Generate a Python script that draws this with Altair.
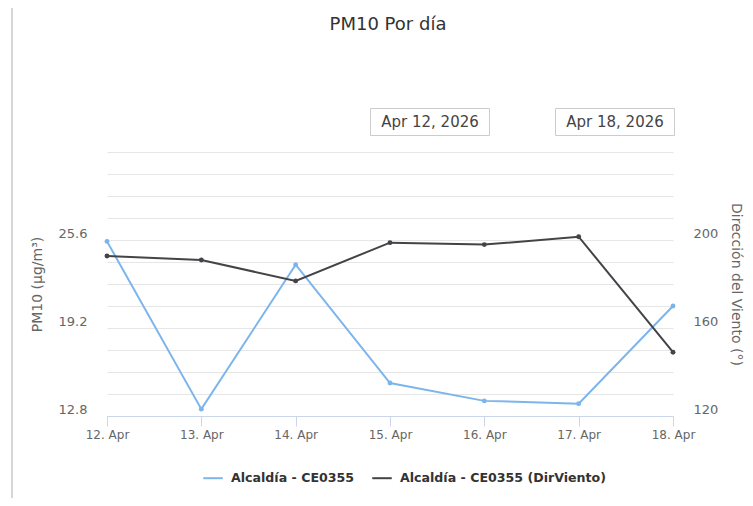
import altair as alt
import pandas as pd

# ---- data ----
dias = ["12. Apr", "13. Apr", "14. Apr", "15. Apr", "16. Apr", "17. Apr", "18. Apr"]
pm10 = [25.5, 13.3, 23.8, 15.2, 13.9, 13.7, 20.8]
dir_viento = [192.7, 190.9, 181.4, 198.8, 197.9, 201.5, 149.0]
serie_pm10 = "Alcaldía - CE0355"
serie_dir = "Alcaldía - CE0355 (DirViento)"
titulo = "PM10 Por día"
fechas_rango = ["Apr 12, 2026", "Apr 18, 2026"]
left_ticks = [12.8, 14.4, 16.0, 17.6, 19.2, 20.8, 22.4, 24.0, 25.6, 27.2, 28.8, 30.4, 32.0]
left_labels = [12.8, 19.2, 25.6]
right_ticks = [120, 160, 200]

df_pm = pd.DataFrame({"dia": dias, "pm10": pm10, "serie": [serie_pm10] * len(dias)})
df_dir = pd.DataFrame({"dia": dias, "dir": dir_viento, "serie": [serie_dir] * len(dias)})

FONT = "DejaVu Sans"
BLUE = "#7cb5ec"
BLACK = "#434348"

color_scale = alt.Scale(domain=[serie_pm10, serie_dir], range=[BLUE, BLACK])
legend = alt.Legend(
    orient="none", legendX=95, legendY=315, direction="horizontal", title=None,
    symbolType="stroke", symbolStrokeWidth=2, symbolSize=380,
    labelFontSize=12.6, labelFontWeight="bold", labelColor="#333333", labelFont=FONT,
    columnPadding=13, labelOffset=7, padding=0, labelLimit=0,
)

x_enc = alt.X(
    "dia:O", sort=dias, scale=alt.Scale(type="point", padding=0),
    axis=alt.Axis(title=None, labelAngle=0, domainColor="#ccd6eb", tickColor="#ccd6eb",
                  tickSize=10, labelColor="#666666", labelFontSize=12, labelPadding=3,
                  grid=False, labelFont=FONT),
)

label_expr = "indexof([" + ",".join(str(v) for v in left_labels) + "], datum.value) >= 0 ? format(datum.value, '.1f') : ''"

line_pm = alt.Chart(df_pm).mark_line(strokeWidth=2, point=alt.OverlayMarkDef(size=24, filled=True)).encode(
    x=x_enc,
    y=alt.Y("pm10:Q", scale=alt.Scale(domain=[12.8, 32.0], nice=False, zero=False),
            axis=alt.Axis(title="PM10 (µg/m³)", values=left_ticks, labelExpr=label_expr,
                          grid=True, gridColor="#e6e6e6", domain=False, ticks=False,
                          labelPadding=20, labelOffset=-7, labelColor="#666666", labelFontSize=13,
                          titleColor="#666666", titleFontSize=14, titleFontWeight="normal",
                          titlePadding=14, labelFont=FONT, titleFont=FONT)),
    color=alt.Color("serie:N", scale=color_scale, legend=legend),
)

line_dir = alt.Chart(df_dir).mark_line(strokeWidth=2, point=alt.OverlayMarkDef(size=24, filled=True)).encode(
    x=x_enc,
    y=alt.Y("dir:Q", scale=alt.Scale(domain=[120, 240], nice=False, zero=False),
            axis=alt.Axis(title="Dirección del Viento (°)", orient="right", values=right_ticks,
                          grid=False, domain=False, ticks=False,
                          labelPadding=20, labelOffset=-7, labelColor="#666666", labelFontSize=13,
                          titleColor="#666666", titleFontSize=14, titleFontWeight="normal",
                          titlePadding=11, labelFont=FONT, titleFont=FONT)),
    color=alt.Color("serie:N", scale=color_scale, legend=legend),
)

# ---- annotations ----
title_df = pd.DataFrame({"t": [titulo]})
title_txt = alt.Chart(title_df).mark_text(fontSize=18, color="#333333", font=FONT, baseline="middle", align="center").encode(
    text="t:N", x=alt.value(281), y=alt.value(-127)
)

d1 = pd.DataFrame({"t": [fechas_rango[0]]})
d2 = pd.DataFrame({"t": [fechas_rango[1]]})
box1 = alt.Chart(d1).mark_rect(fill="white", stroke="#cccccc", strokeWidth=1).encode(
    x=alt.value(263.5), x2=alt.value(382.5), y=alt.value(-43.5), y2=alt.value(-16.5)
)
box2 = alt.Chart(d2).mark_rect(fill="white", stroke="#cccccc", strokeWidth=1).encode(
    x=alt.value(448.5), x2=alt.value(567.5), y=alt.value(-43.5), y2=alt.value(-16.5)
)
txt1 = alt.Chart(d1).mark_text(fontSize=15, color="#444444", font=FONT, baseline="middle", align="center").encode(
    text="t:N", x=alt.value(323), y=alt.value(-30)
)
txt2 = alt.Chart(d2).mark_text(fontSize=15, color="#444444", font=FONT, baseline="middle", align="center").encode(
    text="t:N", x=alt.value(508), y=alt.value(-30)
)
border = alt.Chart(title_df).mark_rule(color="#d6d6d6", strokeWidth=2).encode(
    x=alt.value(-95), y=alt.value(-152), y2=alt.value(354)
)

chart = alt.layer(line_pm, line_dir, title_txt, box1, box2, txt1, txt2, border).resolve_scale(
    y="independent"
).properties(
    width=566, height=264,
    autosize=alt.AutoSizeParams(type="none"),
    padding={"left": 99, "top": 144, "right": 72, "bottom": 82},
).configure(font=FONT).configure_view(stroke=None)

chart.save("out.html", embed_options={"renderer": "svg", "actions": False})
